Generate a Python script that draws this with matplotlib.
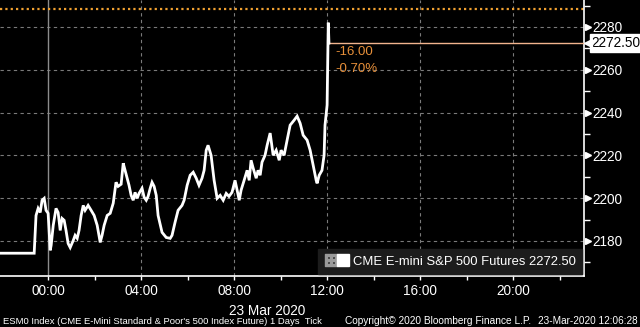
import matplotlib
matplotlib.use("Agg")
import matplotlib.pyplot as plt
import matplotlib.transforms as mtransforms
from matplotlib.legend_handler import HandlerTuple

# intraday ticks, hours relative to 23 Mar 2020 00:00
hours = [-2.07, -0.60, -0.52, -0.43, -0.34, -0.26, -0.17, -0.09, 0.00, 0.09, 0.13,
         0.22, 0.34, 0.43, 0.52, 0.60, 0.69, 0.77, 0.86, 0.95, 1.08, 1.16, 1.25,
         1.33, 1.42, 1.51, 1.59, 1.72, 1.85, 1.98, 2.11, 2.24, 2.32, 2.41, 2.54,
         2.67, 2.80, 2.92, 3.01, 3.14, 3.23, 3.31, 3.40, 3.48, 3.57, 3.66, 3.74,
         3.83, 3.91, 4.04, 4.13, 4.22, 4.30, 4.39, 4.47, 4.56, 4.65, 4.73, 4.90,
         5.08, 5.25, 5.33, 5.46, 5.59, 5.76, 5.85, 5.98, 6.11, 6.24, 6.37, 6.49,
         6.62, 6.71, 6.80, 6.88, 7.01, 7.14, 7.27, 7.40, 7.53, 7.66, 7.78, 7.91,
         8.04, 8.13, 8.22, 8.30, 8.43, 8.56, 8.65, 8.73, 8.82, 8.95, 9.03, 9.12,
         9.20, 9.33, 9.42, 9.55, 9.68, 9.81, 9.94, 10.02, 10.15, 10.28, 10.41,
         10.58, 10.71, 10.84, 10.97, 11.14, 11.27, 11.40, 11.53, 11.57, 11.66,
         11.78, 11.87, 11.91, 12.00, 12.05, 12.08]
prices = [2174.25, 2174.25, 2191.9, 2195.2, 2193.3, 2199.0, 2199.9, 2194.3, 2192.9,
          2175.6, 2177.9, 2187.3, 2195.2, 2193.3, 2184.9, 2190.5, 2189.6, 2184.9,
          2178.8, 2176.9, 2180.2, 2182.6, 2181.2, 2184.9, 2191.9, 2196.6, 2194.3,
          2196.6, 2194.3, 2191.9, 2187.3, 2179.3, 2182.6, 2187.3, 2191.9, 2192.9,
          2197.6, 2207.4, 2205.5, 2206.5, 2216.3, 2213.0, 2209.3, 2206.0, 2201.3,
          2199.0, 2202.7, 2199.9, 2202.2, 2204.6, 2200.4, 2199.0, 2200.8, 2204.6,
          2207.4, 2205.5, 2201.3, 2191.9, 2184.0, 2181.6, 2181.2, 2182.6, 2188.7,
          2194.3, 2196.6, 2199.0, 2206.0, 2210.7, 2212.1, 2209.3, 2206.0, 2209.3,
          2213.0, 2222.4, 2224.7, 2220.0, 2208.3, 2199.9, 2201.3, 2199.0, 2202.2,
          2200.8, 2202.7, 2208.3, 2203.7, 2199.0, 2203.7, 2208.3, 2213.0, 2208.3,
          2217.7, 2214.0, 2209.3, 2213.0, 2210.7, 2216.8, 2220.0, 2224.7, 2230.4,
          2220.0, 2222.4, 2217.7, 2222.4, 2220.0, 2227.1, 2234.1, 2236.4, 2238.3,
          2235.0, 2229.4, 2227.1, 2222.4, 2215.4, 2208.3, 2206.9, 2210.7, 2213.0,
          2220.0, 2234.1, 2243.5, 2282.0, 2272.5]

x_ticks = [0, 4, 8, 12, 16, 20]
x_labels = ["00:00", "04:00", "08:00", "12:00", "16:00", "20:00"]
x_minor = [2, 6, 10, 14, 18, 22]
y_ticks = [2180, 2200, 2220, 2240, 2260, 2280]
y_minor = [2170, 2190, 2210, 2230, 2250, 2270, 2290]

last_price = 2272.50
prev_close = 2288.50
change = "-16.00"
change_pct = "-0.70%"
series_name = "CME E-mini S&P 500 Futures"

FONT = "Liberation Sans"
ORANGE = "#f0a030"


def main():
    fig = plt.figure(figsize=(6.4, 3.27), dpi=100, facecolor="black")
    ax = fig.add_axes([0.0, 1 - 276 / 327, 584 / 640, 276 / 327])
    ax.set_facecolor("black")

    xmin, xmax = -2.07, 23.05
    ax.set_xlim(xmin, xmax)
    ax.set_ylim(2163.6, 2292.6)

    # grid
    for y in y_ticks:
        ax.axhline(y, color="#7a7a7a", lw=0.8, ls=(0, (3, 3)), zorder=1)
    for x in x_ticks[1:]:
        ax.axvline(x, color="#7a7a7a", lw=0.8, ls=(0, (3, 3)), zorder=1)
    ax.axvline(0, color="#8c8c8c", lw=1.0, zorder=1)

    # previous close
    ax.axhline(prev_close, color=ORANGE, lw=1.6, ls=(0, (1, 1.4)), zorder=2)

    ax.plot(hours, prices, color="white", lw=2.0, zorder=4,
            solid_joinstyle="miter")

    # last price line and change vs previous close
    ax.hlines(last_price, 12.0, xmax, color="#f2b48e", lw=1.0, zorder=3)
    ax.text(12.35, last_price - 4.2, change, color="#e8903a", fontsize=9.5,
            family=FONT, va="center", zorder=5)
    ax.text(12.35, last_price - 12.2, change_pct, color="#e8903a", fontsize=9.5,
            family=FONT, va="center", zorder=5)

    # axes styling
    for side in ("left", "top"):
        ax.spines[side].set_visible(False)
    for side in ("right", "bottom"):
        ax.spines[side].set_color("white")
        ax.spines[side].set_linewidth(1.2)

    ax.yaxis.tick_right()
    ax.set_yticks(y_ticks)
    ax.set_yticklabels([str(v) for v in y_ticks])
    ax.set_yticks(y_minor, minor=True)
    ax.set_xticks(x_ticks)
    ax.set_xticklabels(x_labels)
    ax.set_xticks(x_minor, minor=True)
    ax.tick_params(axis="y", which="major", colors="white", length=0, pad=6,
                   labelsize=9.8)
    ax.tick_params(axis="y", which="minor", colors="white", length=4, width=1)
    ax.tick_params(axis="x", which="both", colors="white", length=3, width=1,
                   labelsize=9.8, pad=3)
    for lab in ax.get_xticklabels() + ax.get_yticklabels():
        lab.set_family(FONT)

    # arrow-like major tick markers on the right axis
    trans = mtransforms.blended_transform_factory(ax.transAxes, ax.transData)
    ax.plot([1.006] * len(y_ticks), y_ticks, ls="none", marker=">",
            color="white", ms=4.5, transform=trans, clip_on=False, zorder=6)

    # last price box
    ax.text(1.013, last_price, f"{last_price:.2f}", transform=trans,
            color="black", fontsize=9.8, family=FONT, va="center", ha="left",
            bbox=dict(boxstyle="square,pad=0.12", fc="white", ec="white"),
            clip_on=False, zorder=7)
    ax.plot([1.006], [last_price], ls="none", marker="<", color="white",
            ms=6, transform=trans, clip_on=False, zorder=7)

    # legend
    h_plus = plt.Line2D([], [], ls="none", marker="$\u229e$", color="#9a9a9a",
                        ms=8)
    h_sq = plt.Line2D([], [], ls="none", marker="s", color="white", ms=9)
    leg = ax.legend(handles=[(h_plus, h_sq)],
                    labels=[series_name + f" {last_price:.2f}"],
                    handler_map={tuple: HandlerTuple(ndivide=None, pad=0.0)},
                    loc="lower right", bbox_to_anchor=(1.0, 0.0),
                    frameon=True, fancybox=False, facecolor="#1c1c1c",
                    edgecolor="#1c1c1c", framealpha=1.0, borderaxespad=0.15,
                    handletextpad=0.25, handlelength=1.9, borderpad=0.5,
                    prop={"family": FONT, "size": 9.4})
    for t in leg.get_texts():
        t.set_color("white")
    leg.set_zorder(8)

    fig.text(267 / 640, 1 - 311 / 327, "23 Mar 2020", color="white",
             fontsize=9.8, family=FONT, ha="center", va="center")
    fig.text(0.004, 1 - 321 / 327,
             "ESM0 Index (CME E-Mini Standard & Poor's 500 Index Future) 1 Days  Tick",
             color="white", fontsize=6.8, family=FONT, ha="left", va="center")
    fig.text(345 / 640, 1 - 321 / 327,
             "Copyright\u00a9 2020 Bloomberg Finance L.P.", color="white",
             fontsize=7.3, family=FONT, ha="left", va="center")
    fig.text(0.997, 1 - 321 / 327, "23-Mar-2020 12:06:28", color="white",
             fontsize=7.2, family=FONT, ha="right", va="center")

    fig.savefig("out.png", dpi=100, facecolor="black")


if __name__ == "__main__":
    main()
